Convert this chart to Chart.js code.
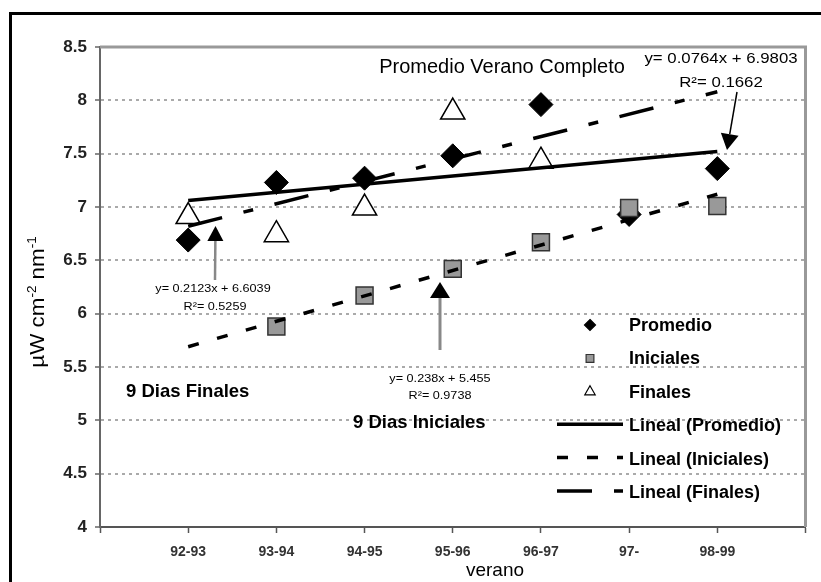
<!DOCTYPE html>
<html>
<head>
<meta charset="utf-8">
<script src="https://cdn.jsdelivr.net/npm/chart.js@4.4.1/dist/chart.umd.min.js"></script>
<style>
  html, body { margin: 0; padding: 0; background: #fff; overflow: hidden; }
  #frame { position: absolute; left: 9px; top: 12px; width: 900px; height: 700px; border: 3px solid #000; }
  #wrap { position: absolute; left: 0; top: 0; width: 821px; height: 582px; }
</style>
</head>
<body>
<div id="frame"></div>
<div id="wrap"><canvas id="uvChart"></canvas></div>
<script>
// summers (verano)
const categories = ['92-93', '93-94', '94-95', '95-96', '96-97', '97-', '98-99'];
// µW cm-2 nm-1
const promedio = [6.69, 7.23, 7.27, 7.48, 7.96, 6.93, 7.36];
const iniciales = [null, 5.88, 6.17, 6.42, 6.67, 6.99, 7.01];
const finales = [6.91, 6.74, 6.99, 7.89, 7.43, null, null];
// trend lines, value read at 92-93 and at 98-99
const trendPromedio = [7.06, 7.52];
const trendIniciales = [5.69, 7.12];
const trendFinales = [6.82, 8.08];

function toPoints(vals) {
    return vals.map((v, i) => ({ x: i + 1, y: v })).filter(p => p.y !== null);
}
function trendPoints(ends) {
    return [{ x: 1, y: ends[0] }, { x: categories.length, y: ends[1] }];
}

Chart.defaults.font.family = '"Liberation Sans", Arial, sans-serif';
Chart.defaults.color = '#000';

function drawMarker(ctx, style, x, y, r, fill, stroke, lw) {
    ctx.beginPath();
    if (style === 'rectRot') {
        ctx.moveTo(x, y - r); ctx.lineTo(x + r, y); ctx.lineTo(x, y + r); ctx.lineTo(x - r, y);
    } else if (style === 'rect') {
        const s = r * Math.SQRT1_2;
        ctx.rect(x - s, y - s, 2 * s, 2 * s);
    } else {
        ctx.moveTo(x, y - r);
        ctx.lineTo(x + r * Math.sin(Math.PI * 2 / 3), y + r / 2);
        ctx.lineTo(x - r * Math.sin(Math.PI * 2 / 3), y + r / 2);
    }
    ctx.closePath();
    ctx.fillStyle = fill;
    ctx.fill();
    ctx.lineWidth = lw;
    ctx.strokeStyle = stroke;
    ctx.stroke();
}

function stretchText(ctx, text, x, y, sx) {
    ctx.save();
    ctx.translate(x, y);
    ctx.scale(sx, 1);
    ctx.fillText(text, 0, 0);
    ctx.restore();
}

function arrow(ctx, x1, y1, x2, y2, lineColor, lw, headLen, headW) {
    const a = Math.atan2(y2 - y1, x2 - x1);
    const bx = x2 - Math.cos(a) * headLen, by = y2 - Math.sin(a) * headLen;
    ctx.beginPath();
    ctx.moveTo(x1, y1);
    ctx.lineTo(bx, by);
    ctx.strokeStyle = lineColor;
    ctx.lineWidth = lw;
    ctx.setLineDash([]);
    ctx.stroke();
    ctx.beginPath();
    ctx.moveTo(x2, y2);
    ctx.lineTo(bx + Math.sin(a) * headW / 2, by - Math.cos(a) * headW / 2);
    ctx.lineTo(bx - Math.sin(a) * headW / 2, by + Math.cos(a) * headW / 2);
    ctx.closePath();
    ctx.fillStyle = '#000';
    ctx.fill();
}

const frameLines = {
    id: 'frameLines',
    beforeDatasetsDraw(chart) {
        const { ctx, chartArea: a } = chart;
        ctx.save();
        ctx.strokeStyle = '#999';
        ctx.lineWidth = 3;
        ctx.beginPath();
        ctx.moveTo(a.left, a.top);
        ctx.lineTo(a.right, a.top);
        ctx.lineTo(a.right, a.bottom);
        ctx.stroke();
        ctx.restore();
    }
};

const extras = {
    id: 'extras',
    afterDatasetsDraw(chart) {
        const ctx = chart.ctx;
        ctx.save();
        ctx.fillStyle = '#000';

        // legend
        const styles = [
            { style: 'rectRot', fill: '#000', stroke: '#000' },
            { style: 'rect', fill: '#999', stroke: '#333' },
            { style: 'triangle', fill: '#fff', stroke: '#000' }
        ];
        chart.data.datasets.forEach((ds, i) => {
            const base = 331 + i * 33.4;
            const my = base - 7;
            if (i < 3) {
                const s = styles[i];
                drawMarker(ctx, s.style, 590, my + 1, i === 2 ? 6 : 5.5, s.fill, s.stroke, 1.2);
            } else {
                ctx.beginPath();
                ctx.setLineDash(ds.borderDash || []);
                ctx.moveTo(557, my);
                ctx.lineTo(623, my);
                ctx.strokeStyle = '#000';
                ctx.lineWidth = ds.borderWidth;
                ctx.stroke();
                ctx.setLineDash([]);
            }
            ctx.fillStyle = '#000';
            ctx.font = 'bold 18px "Liberation Sans", Arial, sans-serif';
            ctx.textAlign = 'left';
            ctx.textBaseline = 'alphabetic';
            ctx.fillText(ds.label, 629, base);
        });

        // titles and notes
        ctx.textBaseline = 'alphabetic';
        ctx.textAlign = 'center';
        ctx.font = '20px "Liberation Sans", Arial, sans-serif';
        ctx.fillText('Promedio Verano Completo', 502, 73);

        ctx.font = '15px "Liberation Sans", Arial, sans-serif';
        stretchText(ctx, 'y= 0.0764x + 6.9803', 721, 63, 1.12);
        stretchText(ctx, 'R\u00b2= 0.1662', 721, 87, 1.12);

        ctx.font = '11px "Liberation Sans", Arial, sans-serif';
        stretchText(ctx, 'y= 0.2123x + 6.6039', 213, 292, 1.15);
        stretchText(ctx, 'R\u00b2= 0.5259', 215, 310, 1.15);
        stretchText(ctx, 'y= 0.238x + 5.455', 440, 382, 1.15);
        stretchText(ctx, 'R\u00b2= 0.9738', 440, 399, 1.15);

        ctx.textAlign = 'left';
        ctx.font = 'bold 18.5px "Liberation Sans", Arial, sans-serif';
        ctx.fillText('9 Dias Finales', 126, 397);
        ctx.fillText('9 Dias Iniciales', 353, 428);

        arrow(ctx, 737, 92, 727, 150, '#000', 1.5, 16, 18);
        arrow(ctx, 215, 280, 215.5, 226, '#888', 2.5, 15, 16);
        arrow(ctx, 440, 350, 440, 282, '#888', 3, 16, 20);

        // axis titles
        ctx.font = '19px "Liberation Sans", Arial, sans-serif';
        ctx.textAlign = 'center';
        ctx.fillText('verano', 495, 576);

        ctx.save();
        ctx.translate(44, 302);
        ctx.rotate(-Math.PI / 2);
        ctx.scale(1.12, 1);
        const parts = [['\u00b5W cm', 20, 0], ['-2', 12, -8], [' nm', 20, 0], ['-1', 12, -8]];
        let total = 0;
        parts.forEach(p => { ctx.font = p[1] + 'px "Liberation Sans", Arial, sans-serif'; total += ctx.measureText(p[0]).width; });
        let px = -total / 2;
        ctx.textAlign = 'left';
        parts.forEach(p => {
            ctx.font = p[1] + 'px "Liberation Sans", Arial, sans-serif';
            ctx.fillText(p[0], px, p[2]);
            px += ctx.measureText(p[0]).width;
        });
        ctx.restore();

        ctx.restore();
    }
};

const ctx = document.getElementById('uvChart').getContext('2d');
const uvChart = new Chart(ctx, {
    type: 'scatter',
    data: {
        datasets: [
            {
                label: 'Promedio',
                data: toPoints(promedio),
                pointStyle: 'rectRot',
                pointRadius: 12,
                backgroundColor: '#000',
                borderColor: '#000',
                borderWidth: 1,
                order: 3
            },
            {
                label: 'Iniciales',
                data: toPoints(iniciales),
                pointStyle: 'rect',
                pointRadius: 12,
                backgroundColor: '#999',
                borderColor: '#333',
                borderWidth: 1.5,
                order: 1
            },
            {
                label: 'Finales',
                data: toPoints(finales),
                pointStyle: 'triangle',
                pointRadius: 14,
                backgroundColor: '#fff',
                borderColor: '#000',
                borderWidth: 1.5,
                order: 2
            },
            {
                label: 'Lineal (Promedio)',
                data: trendPoints(trendPromedio),
                showLine: true,
                pointRadius: 0,
                borderColor: '#000',
                borderWidth: 3.5,
                order: 0
            },
            {
                label: 'Lineal (Iniciales)',
                data: trendPoints(trendIniciales),
                showLine: true,
                pointRadius: 0,
                borderColor: '#000',
                borderWidth: 3.5,
                borderDash: [11, 19],
                order: 0
            },
            {
                label: 'Lineal (Finales)',
                data: trendPoints(trendFinales),
                showLine: true,
                pointRadius: 0,
                borderColor: '#000',
                borderWidth: 3.5,
                borderDash: [35, 22, 10, 22],
                order: 0
            }
        ]
    },
    options: {
        responsive: true,
        maintainAspectRatio: false,
        animation: false,
        layout: { padding: { left: 10, top: 47, right: 5, bottom: 0 } },
        plugins: {
            legend: { display: false },
            tooltip: { enabled: false }
        },
        scales: {
            x: {
                type: 'linear',
                position: 'bottom',
                min: 0,
                max: 8,
                afterFit: s => { s.height = 55; },
                grid: { drawOnChartArea: false, tickLength: 6, tickColor: '#555', tickWidth: 1.5 },
                border: { color: '#555', width: 2 },
                ticks: {
                    stepSize: 1,
                    autoSkip: false,
                    maxRotation: 0,
                    padding: 11,
                    color: '#333',
                    font: { size: 14, weight: 'bold' },
                    callback: v => categories[v - 1] || ''
                }
            },
            y: {
                min: 4,
                max: 8.5,
                afterFit: s => { s.width = 90; },
                grid: { color: '#aaa', lineWidth: 2, tickLength: 5, tickColor: '#666', tickWidth: 1.5 },
                border: { color: '#666', width: 2, dash: [3, 4] },
                ticks: {
                    stepSize: 0.5,
                    padding: 8,
                    color: '#222',
                    font: { size: 17, weight: 'bold' },
                    callback: v => String(v)
                }
            }
        }
    },
    plugins: [frameLines, extras]
});
</script>
</body>
</html>
